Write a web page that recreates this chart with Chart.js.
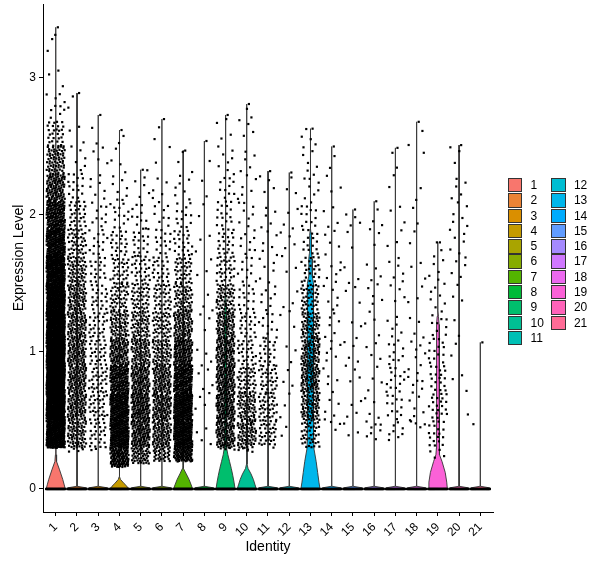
<!DOCTYPE html>
<html>
<head>
<meta charset="utf-8">
<script src="https://cdn.jsdelivr.net/npm/chart.js@4.4.1/dist/chart.umd.min.js"></script>
<style>
html, body { margin: 0; padding: 0; background: #fff; }
#wrap { position: relative; width: 600px; height: 568px; }
#legend { position: absolute; left: 508px; top: 178px; font: 12px "Liberation Sans", Arial, sans-serif; color: #000; }
#legend .col { position: absolute; top: 0; }
#legend .item { position: relative; height: 15.3px; width: 40px; }
#legend .box { position: absolute; left: 0; top: 0; width: 12.4px; height: 12.4px; border: 1px solid #333; }
#legend .lab { position: absolute; left: 22.5px; top: 0; line-height: 14.4px; }
</style>
</head>
<body>
<div id="wrap">
  <canvas id="vln" width="600" height="568"></canvas>
  <div id="legend"></div>
</div>
<script>
// clusters (Identity)
var categories = ['1','2','3','4','5','6','7','8','9','10','11','12','13','14','15','16','17','18','19','20','21'];
var yTicks = [0, 1, 2, 3];

// highest and lowest non-zero expression per cluster
var yMax = [3.37, 2.89, 2.73, 2.62, 2.33, 2.70, 2.47, 2.54, 2.73, 2.81, 2.32, 2.31, 2.63, 2.50, 2.04, 2.10, 2.49, 2.68, 1.80, 2.51, 1.07];
var yMin = [0.30, 0.27, 0.28, 0.16, 0.18, 0.20, 0.20, 0.30, 0.28, 0.27, 0.30, 0.35, 0.30, 0.40, 0.35, 0.35, 0.35, 0.45, 0.22, 0.50, 0.45];

// number of cells shown at zero per cluster
var zeroCounts = [40, 40, 40, 40, 40, 40, 40, 40, 40, 40, 40, 40, 40, 40, 40, 40, 40, 40, 40, 40, 40];

// cells per expression bin (edges below), one row per cluster
var binEdges = [0.1, 0.3, 0.5, 0.7, 0.9, 1.1, 1.3, 1.5, 1.7, 1.9, 2.1, 2.3, 2.5, 2.7, 2.9, 3.1, 3.3, 3.5];
var binCounts = [
  [0, 270, 350, 380, 370, 340, 300, 250, 190, 150, 100, 65, 30, 10, 3, 2, 1],
  [4, 70, 85, 88, 85, 78, 70, 58, 42, 28, 16, 6, 3, 2, 0, 0, 0],
  [2, 25, 32, 32, 28, 27, 22, 18, 14, 10, 7, 4, 2, 0, 0, 0, 0],
  [110, 210, 190, 150, 100, 65, 45, 32, 22, 13, 8, 4, 2, 0, 0, 0, 0],
  [45, 110, 115, 100, 80, 58, 42, 28, 18, 10, 5, 1, 0, 0, 0, 0, 0],
  [30, 85, 95, 85, 65, 48, 36, 24, 15, 9, 5, 2, 2, 0, 0, 0, 0],
  [90, 210, 200, 165, 120, 85, 55, 36, 22, 13, 7, 3, 0, 0, 0, 0, 0],
  [0, 4, 4, 4, 4, 3, 3, 3, 3, 2, 2, 1, 0, 0, 0, 0, 0],
  [4, 100, 110, 105, 95, 78, 55, 32, 22, 16, 11, 7, 4, 0, 0, 0, 0],
  [5, 70, 62, 42, 28, 22, 16, 11, 9, 8, 6, 5, 4, 2, 0, 0, 0],
  [0, 35, 38, 32, 22, 12, 8, 6, 6, 5, 4, 0, 0, 0, 0, 0, 0],
  [0, 2, 3, 3, 3, 3, 3, 3, 4, 4, 3, 0, 0, 0, 0, 0, 0],
  [0, 40, 70, 80, 75, 60, 40, 25, 15, 12, 8, 6, 4, 0, 0, 0, 0],
  [0, 3, 5, 5, 6, 6, 6, 6, 5, 4, 3, 2, 0, 0, 0, 0, 0],
  [0, 3, 4, 4, 4, 3, 3, 3, 2, 4, 0, 0, 0, 0, 0, 0, 0],
  [0, 8, 4, 4, 4, 4, 5, 4, 3, 3, 0, 0, 0, 0, 0, 0, 0],
  [0, 8, 12, 14, 10, 6, 4, 6, 3, 3, 2, 2, 0, 0, 0, 0, 0],
  [0, 4, 6, 8, 6, 4, 3, 3, 2, 2, 2, 1, 2, 0, 0, 0, 0],
  [4, 18, 20, 18, 14, 10, 7, 6, 2, 0, 0, 0, 0, 0, 0, 0, 0],
  [0, 0, 1, 3, 2, 2, 3, 5, 6, 6, 5, 3, 0, 0, 0, 0, 0],
  [0, 1, 0, 0, 0, 0, 0, 0, 0, 0, 0, 0, 0, 0, 0, 0, 0]
];

// violin half-widths (x units) at given expression levels
var thinY = [0, 0.008, 0.02];
var thinW = [0.45, 0.44, 0.006];
var violinY = {
  1:  [0, 0.03, 0.07, 0.14, 0.20, 0.25],
  4:  [0, 0.02, 0.04, 0.07, 0.09],
  7:  [0, 0.03, 0.07, 0.11, 0.15, 0.17],
  9:  [0, 0.05, 0.10, 0.15, 0.20, 0.25, 0.30, 0.35, 1.30, 1.45, 1.55],
  10: [0, 0.03, 0.07, 0.11, 0.15, 0.18, 0.90, 0.95],
  13: [0, 0.05, 0.12, 0.20, 0.29, 0.36, 1.00, 1.50, 1.55, 1.68, 1.72, 1.85, 1.90],
  19: [0, 0.05, 0.12, 0.20, 0.25, 0.30, 1.20, 1.26, 1.30]
};
var violinW = {
  1:  [0.45, 0.40, 0.33, 0.18, 0.04, 0.015],
  4:  [0.45, 0.35, 0.22, 0.05, 0.01],
  7:  [0.45, 0.38, 0.28, 0.15, 0.03, 0.01],
  9:  [0.45, 0.40, 0.34, 0.27, 0.19, 0.11, 0.06, 0.04, 0.04, 0.02, 0.006],
  10: [0.45, 0.39, 0.31, 0.20, 0.06, 0.015, 0.012, 0.005],
  13: [0.45, 0.40, 0.34, 0.27, 0.17, 0.14, 0.15, 0.14, 0.09, 0.08, 0.05, 0.04, 0.006],
  19: [0.45, 0.42, 0.35, 0.20, 0.09, 0.065, 0.06, 0.03, 0.006]
};

var FONT = '"Liberation Sans", Arial, sans-serif';

// ggplot default hue palette (hcl, l=65, c=100)
function hcl(h, c, l) {
  var hr = h * Math.PI / 180;
  var U = c * Math.cos(hr), V = c * Math.sin(hr);
  var Xn = 95.047, Yn = 100, Zn = 108.883;
  var Y = Yn * Math.pow((l + 16) / 116, 3);
  var den = Xn + 15 * Yn + 3 * Zn;
  var u = U / (13 * l) + 4 * Xn / den;
  var v = V / (13 * l) + 9 * Yn / den;
  var X = 9 * Y * u / (4 * v);
  var Z = Y * (12 - 3 * u - 20 * v) / (4 * v);
  X /= 100; Y /= 100; Z /= 100;
  var rgb = [
    3.240479 * X - 1.537150 * Y - 0.498535 * Z,
    -0.969256 * X + 1.875992 * Y + 0.041556 * Z,
    0.055648 * X - 0.204043 * Y + 1.057311 * Z
  ].map(function (t) {
    t = t <= 0.0031308 ? 12.92 * t : 1.055 * Math.pow(t, 1 / 2.4) - 0.055;
    return Math.round(Math.max(0, Math.min(1, t)) * 255);
  });
  return 'rgb(' + rgb.join(',') + ')';
}
var colors = categories.map(function (c, i) { return hcl(15 + i * 360 / categories.length, 100, 65); });

function frac(a) { return a - Math.floor(a); }

var datasets = [];

// violins
categories.forEach(function (cat, i) {
  var x0 = i + 1;
  var vy = (violinY[x0] || thinY).concat([yMax[i]]);
  var vw = (violinW[x0] || thinW).concat([0.002]);
  var pts = [];
  for (var k = 0; k < vy.length; k++) pts.push({ x: x0 - vw[k], y: vy[k] });
  for (var k = vy.length - 1; k >= 0; k--) pts.push({ x: x0 + vw[k], y: vy[k] });
  pts.push({ x: x0 - vw[0], y: vy[0] });
  datasets.push({
    label: cat,
    data: pts,
    showLine: true,
    fill: 'shape',
    tension: 0,
    pointRadius: 0,
    borderColor: '#333',
    borderWidth: 0.9,
    borderJoinStyle: 'bevel',
    backgroundColor: colors[i],
    order: 2
  });
});

// jittered cells
var zeros = [];
var cells = [];
categories.forEach(function (cat, i) {
  var x0 = i + 1;
  var n0 = zeroCounts[i];
  for (var k = 0; k < n0; k++) zeros.push({ x: x0 - 0.45 + 0.9 * k / (n0 - 1), y: 0 });
  binCounts[i].forEach(function (n, b) {
    var lo = Math.max(binEdges[b], yMin[i]);
    var hi = Math.min(binEdges[b + 1], yMax[i]);
    if (hi <= lo) return;
    for (var k = 0; k < n; k++) {
      var u = frac(0.31 * i + 0.17 * b + 0.7548776662 * (k + 1));
      var v = frac(0.53 * i + 0.29 * b + 0.5698402910 * (k + 1));
      cells.push({ x: x0 - 0.43 + 0.86 * u, y: lo + (hi - lo) * v });
    }
  });
  cells.push({ x: x0 + 0.1, y: yMax[i] });
});
datasets.push({
  label: 'cells',
  data: cells,
  pointStyle: 'rect',
  pointRadius: 1.55,
  pointBorderWidth: 0,
  backgroundColor: '#000',
  borderColor: '#000',
  order: 0
});
datasets.push({
  label: 'zeros',
  data: zeros,
  pointStyle: 'rect',
  pointRadius: 1.6,
  pointBorderWidth: 0,
  backgroundColor: '#000',
  borderColor: '#000',
  order: 1
});

var ctx = document.getElementById('vln').getContext('2d');
var vlnChart = new Chart(ctx, {
  type: 'scatter',
  data: { datasets: datasets },
  options: {
    responsive: false,
    animation: false,
    events: [],
    layout: { padding: { top: 4, right: 107, left: 0, bottom: 0 } },
    plugins: {
      legend: { display: false },
      tooltip: { enabled: false }
    },
    scales: {
      x: {
        type: 'linear',
        min: 0.4,
        max: 21.6,
        afterBuildTicks: function (s) {
          s.ticks = categories.map(function (c, i) { return { value: i + 1 }; });
        },
        afterFit: function (s) {
          s.height = 56;
          s.paddingLeft = 0;
          s.paddingRight = 0;
        },
        ticks: {
          autoSkip: false,
          maxRotation: 45,
          minRotation: 45,
          padding: 4,
          color: '#000',
          font: { family: FONT, size: 12 },
          callback: function (v) { return categories[Math.round(v) - 1]; }
        },
        grid: { display: true, drawOnChartArea: false, drawTicks: true, tickLength: 4, color: '#000', lineWidth: 1 },
        border: { display: true, color: '#000', width: 1 },
        title: { display: true, text: 'Identity', color: '#000', font: { family: FONT, size: 14 }, padding: { top: 0, bottom: 12 } }
      },
      y: {
        min: -0.168,
        max: 3.54,
        afterBuildTicks: function (s) {
          s.ticks = yTicks.map(function (t) { return { value: t }; });
        },
        afterFit: function (s) {
          s.width = 43;
          s.paddingTop = 0;
          s.paddingBottom = 0;
        },
        ticks: {
          padding: 3,
          color: '#000',
          font: { family: FONT, size: 12 },
          callback: function (v) { return String(v); }
        },
        grid: { display: true, drawOnChartArea: false, drawTicks: true, tickLength: 4, color: '#000', lineWidth: 1 },
        border: { display: true, color: '#000', width: 1 },
        title: { display: true, text: 'Expression Level', color: '#000', font: { family: FONT, size: 14 }, padding: { top: 10.5, bottom: 0 } }
      }
    }
  }
});

// legend: two columns of eleven
var legend = document.getElementById('legend');
var perCol = 11;
for (var c = 0; c < 2; c++) {
  var col = document.createElement('div');
  col.className = 'col';
  col.style.left = (c * 43.4) + 'px';
  for (var r = 0; r < perCol; r++) {
    var idx = c * perCol + r;
    if (idx >= categories.length) break;
    var item = document.createElement('div');
    item.className = 'item';
    item.innerHTML = '<span class="box" style="background:' + colors[idx] + '"></span><span class="lab">' + categories[idx] + '</span>';
    col.appendChild(item);
  }
  legend.appendChild(col);
}
</script>
</body>
</html>
